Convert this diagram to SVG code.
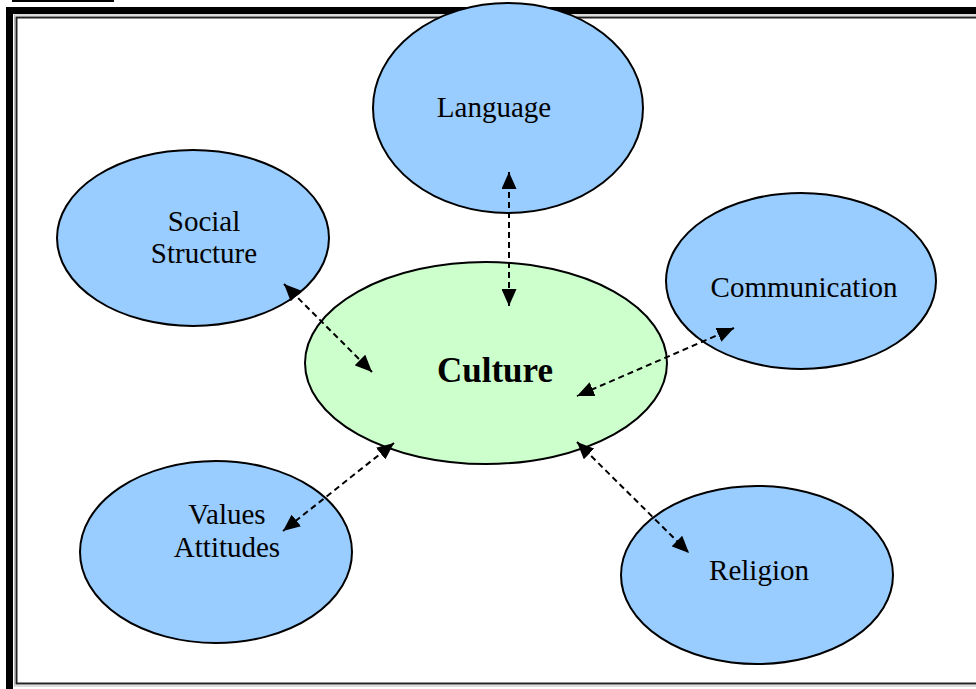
<svg xmlns="http://www.w3.org/2000/svg" width="976" height="689" viewBox="0 0 976 689">
<style>
.node{stroke:#000;stroke-width:2}
.blue{fill:#99ccff}
.green{fill:#ccffcc}
.t{font-family:"Liberation Serif","Times New Roman",serif;font-size:29px;fill:#000;text-anchor:middle}
.b{font-weight:bold;font-size:35px}
.c{fill:none;stroke:#000;stroke-width:2;stroke-dasharray:6 4;marker-start:url(#ah);marker-end:url(#ah)}
</style>
<defs>
<marker id="ah" markerUnits="userSpaceOnUse" markerWidth="17" markerHeight="15" viewBox="0 0 17 15" refX="17" refY="7.5" orient="auto-start-reverse">
<path d="M0,0 L17,7.5 L0,15 Z" fill="#000"/>
</marker>
</defs>
<rect x="0" y="0" width="976" height="689" fill="#fff"/>
<rect x="12" y="0" width="102" height="2" fill="#000"/>
<rect x="9.5" y="10.5" width="1000" height="1000" fill="none" stroke="#000" stroke-width="7"/>
<rect x="14.5" y="15" width="1000" height="671" fill="none" stroke="#bbb" stroke-width="1"/>
<rect x="16.5" y="17.5" width="1000" height="666" fill="none" stroke="#222" stroke-width="2"/>
<g id="language"><ellipse class="node blue" cx="508" cy="108" rx="135" ry="105"/><text class="t" x="494" y="117">Language</text></g>
<g id="social-structure"><ellipse class="node blue" cx="193" cy="238" rx="136" ry="88"/><text class="t" x="204" y="231">Social</text><text class="t" x="204" y="263">Structure</text></g>
<g id="communication"><ellipse class="node blue" cx="801" cy="281" rx="135" ry="88"/><text class="t" x="804" y="297">Communication</text></g>
<g id="culture"><ellipse class="node green" cx="486" cy="363" rx="181" ry="101"/><text class="t b" x="495" y="382">Culture</text></g>
<g id="values-attitudes"><ellipse class="node blue" cx="216" cy="552" rx="136" ry="91"/><text class="t" x="227" y="524">Values</text><text class="t" x="227" y="557">Attitudes</text></g>
<g id="religion"><ellipse class="node blue" cx="757" cy="575" rx="136" ry="89"/><text class="t" x="759" y="580">Religion</text></g>
<g id="connectors">
<path class="c" d="M509,172 L509,306"/>
<path class="c" d="M284,284 L372,372"/>
<path class="c" d="M734,328 L577,396"/>
<path class="c" d="M577,442 L689,553"/>
<path class="c" d="M394,443 L283,531"/>
</g>
</svg>
